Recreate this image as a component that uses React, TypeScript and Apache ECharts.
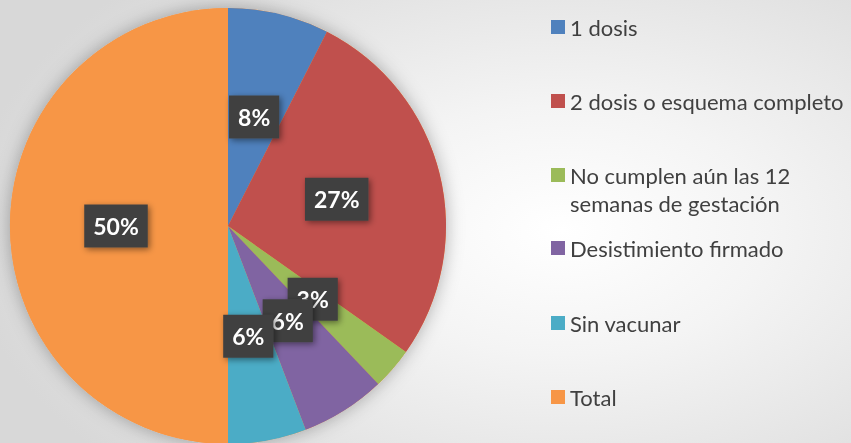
import React, { useEffect, useRef } from "react";
import * as echarts from "echarts";

const categories = [
  "1 dosis",
  "2 dosis o esquema completo",
  "No cumplen aún las 12\nsemanas de gestación",
  "Desistimiento firmado",
  "Sin vacunar",
  "Total",
];
const values = [7.5, 27.3, 3.1, 6.3, 5.8, 50];
const colors = ["#4f81bd", "#c0504d", "#9bbb59", "#8064a2", "#4bacc6", "#f79646"];
const legendCenters = [27, 101, 175, 248, 323, 397];

export default function App() {
  const ref = useRef<HTMLDivElement>(null);
  useEffect(() => {
    document.body.style.margin = "0";
    const chart = echarts.init(ref.current!, undefined, { renderer: "svg" });
    const font = "Lato, 'Open Sans', sans-serif";
    const legends = categories.map((name, i) => {
      const twoLine = name.indexOf("\n") >= 0;
      return {
        data: [name],
        orient: "vertical",
        left: 551,
        top: twoLine ? legendCenters[i] - 42 : legendCenters[i] - 14,
        padding: 0,
        itemWidth: 14,
        itemHeight: 14,
        itemGap: 0,
        icon: "rect",
        selectedMode: false,
        formatter: twoLine ? (n: string) => "\n" + n : undefined,
        textStyle: {
          fontFamily: font,
          fontSize: 22,
          lineHeight: 28,
          color: "#404040",
        },
      };
    });
    chart.setOption({
      animation: false,
      color: colors,
      legend: legends,
      series: [
        {
          type: "pie",
          silent: true,
          center: [228, 226],
          radius: 218,
          z: 1,
          data: [{ value: 1, itemStyle: { color: "#f79646" } }],
          label: { show: false },
          labelLine: { show: false },
          itemStyle: {
            shadowBlur: 18,
            shadowColor: "rgba(0,0,0,0.3)",
          },
        },
        {
          type: "pie",
          center: [228, 226],
          radius: 218,
          startAngle: 90,
          clockwise: true,
          z: 2,
          avoidLabelOverlap: false,
          labelLayout: { hideOverlap: false },
          data: categories.map((name, i) => ({ name, value: values[i] })),
          itemStyle: { borderWidth: 0 },
          label: {
            show: true,
            position: "inside",
            formatter: (p: any) => Math.round(p.percent) + "%",
            color: "#ffffff",
            fontFamily: font,
            fontWeight: "bold",
            fontSize: 23,
            lineHeight: 23,
            backgroundColor: "#404040",
            padding: [10, 9, 10, 9],
            shadowBlur: 6,
            shadowOffsetX: 2,
            shadowOffsetY: 2,
            shadowColor: "rgba(0,0,0,0.45)",
          },
          labelLine: { show: false },
        },
      ],
    });
    return () => chart.dispose();
  }, []);
  return (
    <div
      ref={ref}
      style={{
        position: "fixed",
        left: 0,
        top: 0,
        width: 851,
        height: 443,
        background:
          "radial-gradient(ellipse 70% 80% at 66% 52%, #ffffff 0%, #f4f4f4 35%, #d8d8d8 100%)",
      }}
    />
  );
}
